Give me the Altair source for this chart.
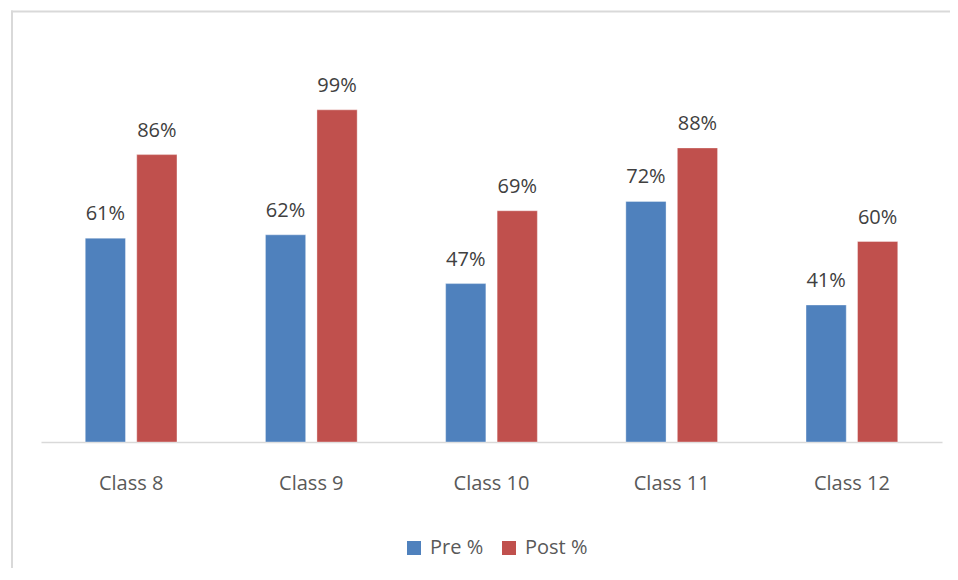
import altair as alt
import pandas as pd

classes = ["Class 8", "Class 9", "Class 10", "Class 11", "Class 12"]
pre = [0.61, 0.62, 0.474, 0.72, 0.41]
post = [0.86, 0.994, 0.692, 0.88, 0.60]
series = ["Pre %", "Post %"]
colors = ["#4f81bd", "#c0504d"]

rows = []
for c, a, b in zip(classes, pre, post):
    rows.append({"cls": c, "series": "Pre %", "value": a})
    rows.append({"cls": c, "series": "Post %", "value": b})
df = pd.DataFrame(rows)

FONT = "Open Sans"

base = alt.Chart(df).encode(
    x=alt.X(
        "cls:N",
        sort=classes,
        scale=alt.Scale(paddingInner=0.491, paddingOuter=0.2456),
        axis=alt.Axis(
            title=None, labelAngle=0, ticks=False, domainColor="#d9d9d9",
            domainWidth=1.5, labelFontSize=20, labelFont=FONT,
            labelColor="#595959", labelPadding=31, grid=False,
        ),
    ),
    xOffset=alt.XOffset("series:N", sort=series,
                        scale=alt.Scale(paddingInner=0.219, paddingOuter=0)),
    y=alt.Y("value:Q", scale=alt.Scale(domain=[0, 1.2]), axis=None),
)

bars = base.mark_bar(stroke="white", strokeWidth=0.6, strokeOpacity=0.6).encode(
    color=alt.Color(
        "series:N",
        sort=series,
        scale=alt.Scale(domain=series, range=colors),
        legend=alt.Legend(
            orient="none", legendX=363, legendY=497, direction="horizontal",
            title=None, symbolType="square", symbolSize=196,
            symbolStrokeWidth=0, labelFontSize=20, labelFont=FONT,
            labelColor="#595959", columnPadding=15, labelOffset=6,
        ),
    )
)

labels = base.mark_text(
    dy=-18, baseline="alphabetic", fontSize=20, font=FONT, color="#404040"
).encode(text=alt.Text("value:Q", format=".0%"))

one = pd.DataFrame({"a": [0]})
top_line = alt.Chart(one).mark_rule(color="#d9d9d9", strokeWidth=2).encode(
    x=alt.value(-30), x2=alt.value(2000), y=alt.value(-29.5)
)
left_line = alt.Chart(one).mark_rule(color="#d9d9d9", strokeWidth=2).encode(
    x=alt.value(-29), y=alt.value(-30.5), y2=alt.value(2000)
)

chart = alt.layer(top_line, left_line, bars, labels).properties(
    width=901,
    height=401,
    autosize=alt.AutoSizeParams(type="none"),
    padding={"left": 33, "top": 33, "right": 8, "bottom": 126},
    background="transparent",
).configure_view(strokeWidth=0)

chart.save("out.html", embed_options={"renderer": "svg", "actions": False})
